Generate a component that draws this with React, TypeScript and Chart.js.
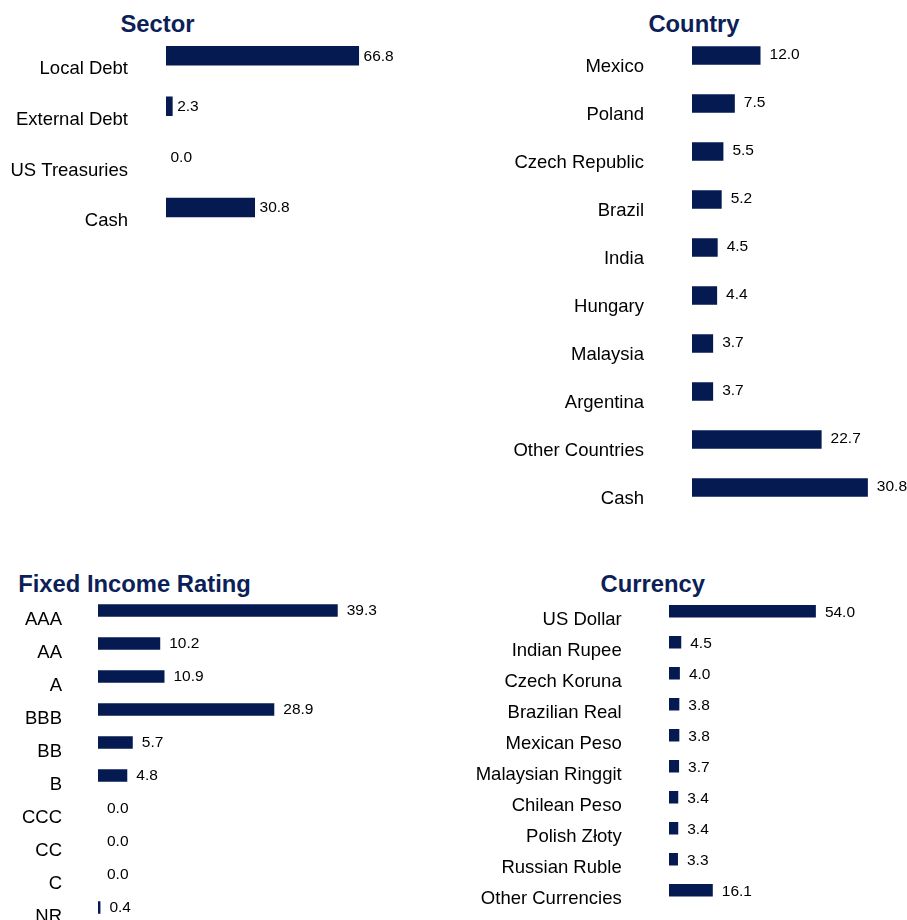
import React, { useEffect, useRef } from "react";
import { Chart, registerables } from "chart.js";

Chart.register(...registerables);

// ---------- data ----------
const sectorLabels = ["Local Debt", "External Debt", "US Treasuries", "Cash"];
const sectorValues = [66.8, 2.3, 0.0, 30.8];

const countryLabels = [
  "Mexico",
  "Poland",
  "Czech Republic",
  "Brazil",
  "India",
  "Hungary",
  "Malaysia",
  "Argentina",
  "Other Countries",
  "Cash",
];
const countryValues = [12.0, 7.5, 5.5, 5.2, 4.5, 4.4, 3.7, 3.7, 22.7, 30.8];

const ratingLabels = ["AAA", "AA", "A", "BBB", "BB", "B", "CCC", "CC", "C", "NR"];
const ratingValues = [39.3, 10.2, 10.9, 28.9, 5.7, 4.8, 0.0, 0.0, 0.0, 0.4];

const currencyLabels = [
  "US Dollar",
  "Indian Rupee",
  "Czech Koruna",
  "Brazilian Real",
  "Mexican Peso",
  "Malaysian Ringgit",
  "Chilean Peso",
  "Polish Złoty",
  "Russian Ruble",
  "Other Currencies",
];
const currencyValues = [54.0, 4.5, 4.0, 3.8, 3.8, 3.7, 3.4, 3.4, 3.3, 16.1];

// ---------- styles ----------
const FONT = '"Liberation Sans", Arial, Helvetica, sans-serif';
const NAVY = "#061a52";
const TITLE_COLOR = "#0c1f58";

const valueLabelPlugin = {
  id: "valueLabels",
  afterDatasetsDraw(chart: any, _args: any, opts: any) {
    const { ctx } = chart;
    const meta = chart.getDatasetMeta(0);
    const data = chart.data.datasets[0].data as number[];
    ctx.save();
    ctx.font = `15.5px ${FONT}`;
    ctx.fillStyle = "#000";
    ctx.textAlign = "left";
    ctx.textBaseline = "middle";
    meta.data.forEach((bar: any, i: number) => {
      ctx.fillText(Number(data[i]).toFixed(1), bar.x + (opts.gap ?? 8), bar.y + (opts.dy ?? 0));
    });
    ctx.restore();
  },
};

type PanelProps = {
  title: string;
  titleX: number;
  titleY: number;
  labels: string[];
  values: number[];
  left: number;
  top: number;
  width: number;
  height: number;
  axisWidth: number;
  plotTop: number;
  plotBottom: number;
  pxPerUnit: number;
  xMax: number;
  barThickness: number;
  labelPadding: number;
  labelOffset: number;
  valueGap: number;
  valueDy: number;
};

function Panel(p: PanelProps) {
  const ref = useRef<HTMLCanvasElement | null>(null);
  useEffect(() => {
    if (!ref.current) return;
    const chart = new Chart(ref.current, {
      type: "bar",
      data: {
        labels: p.labels,
        datasets: [
          {
            data: p.values,
            backgroundColor: NAVY,
            borderWidth: 0,
            inflateAmount: 0,
            barThickness: p.barThickness,
          },
        ],
      },
      options: {
        indexAxis: "y",
        responsive: false,
        animation: false,
        layout: {
          padding: {
            left: 0,
            top: p.plotTop,
            bottom: p.height - p.plotBottom,
            right: p.width - p.axisWidth - p.xMax * p.pxPerUnit,
          },
        },
        plugins: {
          legend: { display: false },
          tooltip: { enabled: false },
          title: { display: false },
          valueLabels: { gap: p.valueGap, dy: p.valueDy },
        } as any,
        scales: {
          x: { display: false, min: 0, max: p.xMax },
          y: {
            grid: { display: false, drawTicks: false },
            border: { display: false },
            ticks: {
              autoSkip: false,
              color: "#000",
              font: { family: FONT, size: 18.5 },
              padding: p.labelPadding,
              labelOffset: p.labelOffset,
            },
            afterFit: (scale: any) => {
              scale.width = p.axisWidth;
              scale.paddingTop = 0;
              scale.paddingBottom = 0;
            },
          },
        },
      } as any,
      plugins: [valueLabelPlugin],
    });
    return () => chart.destroy();
  }, []);

  return (
    <>
      <div
        style={{
          position: "absolute",
          left: p.titleX,
          top: p.titleY,
          transform: "translate(-50%, -50%)",
          whiteSpace: "nowrap",
          fontFamily: FONT,
          fontWeight: "bold",
          fontSize: "23.8px",
          color: TITLE_COLOR,
        }}
      >
        {p.title}
      </div>
      <canvas
        ref={ref}
        width={p.width}
        height={p.height}
        style={{
          position: "absolute",
          left: p.left,
          top: p.top,
          width: p.width,
          height: p.height,
        }}
      />
    </>
  );
}

export default function App() {
  return (
    <div
      style={{
        position: "fixed",
        left: 0,
        top: 0,
        width: 907,
        height: 920,
        overflow: "hidden",
        background: "#fff",
      }}
    >
      <Panel
        title="Sector"
        titleX={157.5}
        titleY={23.5}
        labels={sectorLabels}
        values={sectorValues}
        left={0}
        top={0}
        width={450}
        height={240}
        axisWidth={166}
        plotTop={30.5}
        plotBottom={232.8}
        pxPerUnit={2.89}
        xMax={80}
        barThickness={19.5}
        labelPadding={38}
        labelOffset={13.5}
        valueGap={4.5}
        valueDy={0.5}
      />
      <Panel
        title="Country"
        titleX={694}
        titleY={23.5}
        labels={countryLabels}
        values={countryValues}
        left={450}
        top={0}
        width={457}
        height={520}
        axisWidth={242}
        plotTop={31.5}
        plotBottom={511.5}
        pxPerUnit={5.71}
        xMax={35}
        barThickness={18.5}
        labelPadding={48}
        labelOffset={11.5}
        valueGap={9}
        valueDy={-1}
      />
      <Panel
        title="Fixed Income Rating"
        titleX={134.5}
        titleY={583.5}
        labels={ratingLabels}
        values={ratingValues}
        left={0}
        top={560}
        width={450}
        height={370}
        axisWidth={98}
        plotTop={34}
        plotBottom={364}
        pxPerUnit={6.1}
        xMax={50}
        barThickness={12.5}
        labelPadding={36}
        labelOffset={9.5}
        valueGap={9}
        valueDy={0.5}
      />
      <Panel
        title="Currency"
        titleX={652.7}
        titleY={583.5}
        labels={currencyLabels}
        values={currencyValues}
        left={450}
        top={560}
        width={457}
        height={360}
        axisWidth={219}
        plotTop={35.8}
        plotBottom={345.8}
        pxPerUnit={2.72}
        xMax={70}
        barThickness={12.5}
        labelPadding={47.3}
        labelOffset={9}
        valueGap={9}
        valueDy={1}
      />
    </div>
  );
}
